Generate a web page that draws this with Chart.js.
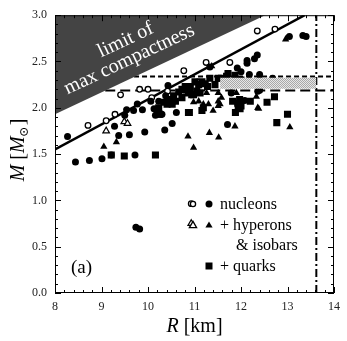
<!DOCTYPE html>
<html>
<head>
<meta charset="utf-8">
<script src="https://cdn.jsdelivr.net/npm/chart.js@4.4.0/dist/chart.umd.min.js"></script>
<style>
  html, body { margin: 0; padding: 0; background: #fff; }
  canvas { display: block; }
</style>
</head>
<body>
<canvas id="chart" width="347" height="341"></canvas>
<script>
// values: [R km, M solar]
const nucleonsOpen = [
  [8.71, 1.81], [9.10, 1.86], [9.29, 1.93], [9.41, 2.14], [9.82, 2.20], [10.00, 2.20],
  [10.42, 2.18], [10.08, 2.11], [10.77, 2.40], [11.07, 2.28], [11.25, 2.49], [11.76, 2.49],
  [12.35, 2.83], [12.73, 2.85], [10.93, 0.965], [9.21, 1.49]
];
const nucleonsFilled = [
  [8.27, 1.69], [8.44, 1.415], [8.74, 1.43], [9.01, 1.45], [9.72, 1.49], [9.28, 1.80],
  [9.50, 1.92], [9.37, 1.70], [9.60, 1.71], [9.93, 1.74], [9.69, 1.97], [9.88, 1.98],
  [10.06, 2.07], [10.13, 1.99], [9.77, 2.04], [9.54, 1.98], [10.36, 1.76], [10.52, 1.83],
  [10.61, 1.95], [9.74, 0.71], [9.82, 0.69], [11.71, 1.82], [12.40, 2.19], [12.08, 2.08],
  [13.33, 2.78], [13.40, 2.77], [13.04, 2.77], [12.35, 2.57], [12.29, 2.53], [12.13, 2.51],
  [12.13, 2.48], [11.92, 2.43], [12.00, 2.39], [12.18, 2.36], [12.40, 2.36], [11.33, 2.44],
  [12.18, 2.30], [12.40, 2.30], [12.68, 2.32], [11.79, 2.16], [12.36, 2.18], [10.43, 2.24],
  [10.38, 2.13], [10.23, 2.07], [10.16, 1.92], [10.30, 1.93], [10.55, 2.07], [10.78, 2.19]
];
const hyperonsOpen = [[9.10, 1.75], [9.49, 1.85], [9.56, 1.83], [10.93, 0.75]];
const hyperonsFilled = [
  [9.05, 1.58], [9.32, 1.63], [10.86, 1.69], [10.98, 1.57], [11.32, 1.73], [11.52, 1.68],
  [11.87, 1.80], [13.05, 1.79], [12.38, 1.99], [12.33, 2.12], [11.58, 2.11], [11.55, 2.04],
  [11.40, 1.97], [12.96, 2.74], [11.37, 2.45], [12.15, 2.29], [11.26, 2.16], [11.51, 2.16],
  [11.90, 2.16], [11.19, 2.04], [11.30, 2.04], [11.51, 2.02], [10.98, 2.06], [11.09, 2.07],
  [11.51, 2.07], [12.36, 2.00]
];
const quarks = [
  [9.49, 1.48], [10.16, 1.49], [10.89, 1.95], [10.23, 1.93], [9.21, 1.49], [12.77, 1.84],
  [13.00, 1.93], [12.72, 2.12], [12.56, 2.06], [11.97, 2.09], [11.94, 2.02], [12.00, 2.02],
  [11.44, 2.25], [11.69, 2.34], [11.87, 2.35], [11.51, 2.32], [12.00, 2.30], [11.33, 2.32],
  [11.72, 2.37], [11.58, 2.32], [11.16, 2.28], [11.01, 2.28], [10.80, 2.23], [10.87, 2.16],
  [10.94, 2.14], [11.12, 2.16], [11.16, 1.97], [11.19, 2.00], [11.82, 2.07], [11.93, 2.05],
  [11.98, 1.99], [11.88, 1.95], [12.20, 2.07], [10.34, 2.06], [10.59, 2.07], [10.91, 2.21],
  [10.73, 2.11], [10.55, 2.13], [10.45, 2.09], [10.52, 2.04], [10.41, 2.04], [10.23, 2.00],
  [10.87, 2.23], [10.73, 2.20], [10.66, 2.17], [11.05, 2.18], [11.23, 2.26], [11.28, 2.23],
  [11.09, 2.25], [10.98, 2.14], [10.25, 1.93], [10.87, 1.95]
];

// reference lines and bands
const compactLimit = [[8, 1.93], [12.52, 3.0]];
const fitLine = [[8, 1.55], [13.37, 3.0]];
const upperDash = [[9.70, 2.337], [14, 2.337]];
const lowerDash = [[9.08, 2.187], [14, 2.187]];
const bandTop = [[11.55, 2.325], [13.62, 2.325]];
const bandBottom = [[11.55, 2.205], [13.62, 2.205]];
const radiusLimit = [[13.62, 0], [13.62, 3.0]];

const xTicks = [8, 9, 10, 11, 12, 13, 14];
const yTicks = [0, 0.5, 1.0, 1.5, 2.0, 2.5, 3.0];

const pts = (arr) => arr.map(([x, y]) => ({ x, y }));
const serif = '"Liberation Serif", "DejaVu Serif", serif';

// grey hatching for the band
const patCanvas = document.createElement('canvas');
patCanvas.width = 2; patCanvas.height = 2;
const pctx = patCanvas.getContext('2d');
pctx.fillStyle = '#e6e6e6'; pctx.fillRect(0, 0, 2, 2);
pctx.fillStyle = '#a8a8a8'; pctx.fillRect(0, 0, 1, 1); pctx.fillRect(1, 1, 1, 1);
const bandPattern = pctx.createPattern(patCanvas, 'repeat');

const lineSet = (data, extra) => Object.assign({
  data: pts(data), showLine: true, pointRadius: 0, borderColor: '#000',
  borderWidth: 2, fill: false
}, extra);

const drawMarker = (ctx, kind, x, y) => {
  ctx.save();
  ctx.fillStyle = '#000'; ctx.strokeStyle = '#000'; ctx.lineWidth = 1.3;
  ctx.beginPath();
  if (kind === 'oc') { ctx.arc(x, y, 2.6, 0, Math.PI * 2); ctx.fillStyle = '#fff'; ctx.fill(); ctx.stroke(); }
  if (kind === 'fc') { ctx.arc(x, y, 3.5, 0, Math.PI * 2); ctx.fill(); }
  if (kind === 'ot' || kind === 'ft') {
    ctx.moveTo(x, y - 3.6); ctx.lineTo(x + 3.6, y + 2.6); ctx.lineTo(x - 3.6, y + 2.6); ctx.closePath();
    if (kind === 'ot') { ctx.fillStyle = '#fff'; ctx.fill(); ctx.stroke(); } else ctx.fill();
  }
  if (kind === 'sq') { ctx.rect(x - 3.5, y - 3.5, 7, 7); ctx.fill(); }
  ctx.restore();
};

const decorations = {
  id: 'decorations',
  afterDraw(chart) {
    const { ctx, chartArea: a, scales: { x, y } } = chart;
    ctx.save();
    // frame
    ctx.strokeStyle = '#000'; ctx.lineWidth = 1;
    ctx.strokeRect(a.left + 0.5, a.top + 0.5, a.right - a.left - 1, a.bottom - a.top - 1);
    // inward ticks on all four sides
    ctx.beginPath();
    for (let i = 0; i <= 30; i++) {
      const px = Math.round(x.getPixelForValue(8 + i * 0.2)) + 0.5;
      const len = i % 5 === 0 ? 6 : 3;
      ctx.moveTo(px, a.bottom); ctx.lineTo(px, a.bottom - len);
      ctx.moveTo(px, a.top); ctx.lineTo(px, a.top + len);
    }
    for (let i = 0; i <= 30; i++) {
      const py = Math.round(y.getPixelForValue(i * 0.1)) + 0.5;
      const len = i % 5 === 0 ? 6 : 3;
      ctx.moveTo(a.left, py); ctx.lineTo(a.left + len, py);
      ctx.moveTo(a.right, py); ctx.lineTo(a.right - len, py);
    }
    ctx.stroke();

    // text inside the compactness region
    const x0 = x.getPixelForValue(compactLimit[0][0]), y0 = y.getPixelForValue(compactLimit[0][1]);
    const x1 = x.getPixelForValue(compactLimit[1][0]), y1 = y.getPixelForValue(compactLimit[1][1]);
    const ang = Math.atan2(y1 - y0, x1 - x0);
    ctx.fillStyle = '#fff';
    ctx.font = `20px ${serif}`;
    ctx.textAlign = 'center'; ctx.textBaseline = 'middle';
    ctx.save();
    ctx.translate(x.getPixelForValue(9.52), y.getPixelForValue(2.73));
    ctx.rotate(ang); ctx.fillText('limit of', 0, 0); ctx.restore();
    ctx.save();
    ctx.translate(x.getPixelForValue(9.6), y.getPixelForValue(2.52));
    ctx.rotate(ang); ctx.fillText('max compactness', 0, 0); ctx.restore();

    // axis titles
    ctx.fillStyle = '#000';
    ctx.font = `italic 20px ${serif}`;
    ctx.textAlign = 'left';
    const rw = ctx.measureText('R ').width;
    ctx.font = `20px ${serif}`;
    const kw = ctx.measureText('[km]').width;
    let sx = (a.left + a.right) / 2 - (rw + kw) / 2;
    ctx.font = `italic 20px ${serif}`; ctx.fillText('R ', sx, 327);
    ctx.font = `20px ${serif}`; ctx.fillText('[km]', sx + rw, 327);

    ctx.save();
    ctx.translate(19, 150); ctx.rotate(-Math.PI / 2);
    ctx.font = `italic 20px ${serif}`;
    const m1 = ctx.measureText('M ').width;
    ctx.font = `20px ${serif}`;
    const b1 = ctx.measureText('[').width;
    ctx.font = `italic 20px ${serif}`;
    const m2 = ctx.measureText('M').width;
    ctx.font = `20px ${serif}`;
    const b2 = ctx.measureText(']').width;
    const sub = 11;
    let tx = -(m1 + b1 + m2 + sub + b2) / 2;
    ctx.font = `italic 20px ${serif}`; ctx.fillText('M ', tx, 0); tx += m1;
    ctx.font = `20px ${serif}`; ctx.fillText('[', tx, 0); tx += b1;
    ctx.font = `italic 20px ${serif}`; ctx.fillText('M', tx, 0); tx += m2;
    ctx.lineWidth = 1;
    ctx.beginPath(); ctx.arc(tx + 4.5, 5, 3.5, 0, Math.PI * 2); ctx.stroke();
    ctx.beginPath(); ctx.arc(tx + 4.5, 5, 0.9, 0, Math.PI * 2); ctx.fill();
    tx += sub;
    ctx.font = `20px ${serif}`; ctx.fillText(']', tx, 0);
    ctx.restore();

    // panel label
    ctx.font = `19px ${serif}`;
    ctx.textAlign = 'left';
    ctx.fillText('(a)', 71, 268);

    // legend
    ctx.font = `16px ${serif}`;
    drawMarker(ctx, 'oc', 193, 204); drawMarker(ctx, 'fc', 209, 204);
    ctx.fillText('nucleons', 220, 205);
    drawMarker(ctx, 'ot', 193, 225); drawMarker(ctx, 'ft', 209, 225);
    ctx.fillText('+ hyperons', 220, 226);
    ctx.fillText('& isobars', 236, 246);
    drawMarker(ctx, 'sq', 209, 266);
    ctx.fillText('+ quarks', 220, 267);
    ctx.restore();
  }
};

new Chart(document.getElementById('chart'), {
  type: 'scatter',
  data: {
    datasets: [
      lineSet(compactLimit, { borderWidth: 0, borderColor: '#444', fill: 'end', backgroundColor: '#444' }),
      lineSet(bandTop, { borderWidth: 0, fill: '+1', backgroundColor: bandPattern }),
      lineSet(bandBottom, { borderWidth: 0 }),
      { data: pts(nucleonsFilled), pointStyle: 'circle', pointRadius: 3.5, backgroundColor: '#000', borderWidth: 0 },
      { data: pts(hyperonsFilled), pointStyle: 'triangle', pointRadius: 4.2, backgroundColor: '#000', borderWidth: 0 },
      { data: pts(quarks), pointStyle: 'rect', pointRadius: 5, backgroundColor: '#000', borderWidth: 0 },
      { data: pts(nucleonsOpen), pointStyle: 'circle', pointRadius: 2.8, backgroundColor: '#fff', borderColor: '#000', borderWidth: 1.3 },
      { data: pts(hyperonsOpen), pointStyle: 'triangle', pointRadius: 3.8, backgroundColor: '#fff', borderColor: '#000', borderWidth: 1.2 },
      lineSet(fitLine, { borderWidth: 2.5 }),
      lineSet(upperDash, { borderDash: [5, 3] }),
      lineSet(lowerDash, { borderDash: [10, 5] }),
      lineSet(radiusLimit, { borderDash: [8, 3, 2, 3] })
    ]
  },
  options: {
    responsive: false,
    animation: false,
    events: [],
    layout: { padding: { top: 9, right: 10, left: 0, bottom: 0 } },
    plugins: { legend: { display: false }, tooltip: { enabled: false } },
    scales: {
      x: {
        type: 'linear', min: 8, max: 14,
        grid: { display: false, drawTicks: false }, border: { display: false },
        afterBuildTicks: (s) => { s.ticks = xTicks.map(v => ({ value: v })); },
        afterFit: (s) => { s.height = 48; },
        ticks: { padding: 7, color: '#222', font: { family: serif, size: 12 }, maxRotation: 0 }
      },
      y: {
        min: 0, max: 3,
        grid: { display: false, drawTicks: false }, border: { display: false },
        afterBuildTicks: (s) => { s.ticks = yTicks.map(v => ({ value: v })); },
        afterFit: (s) => { s.width = 55; },
        ticks: { padding: 8, color: '#222', font: { family: serif, size: 12 }, callback: (v) => v.toFixed(1) }
      }
    }
  },
  plugins: [decorations]
});
</script>
</body>
</html>
